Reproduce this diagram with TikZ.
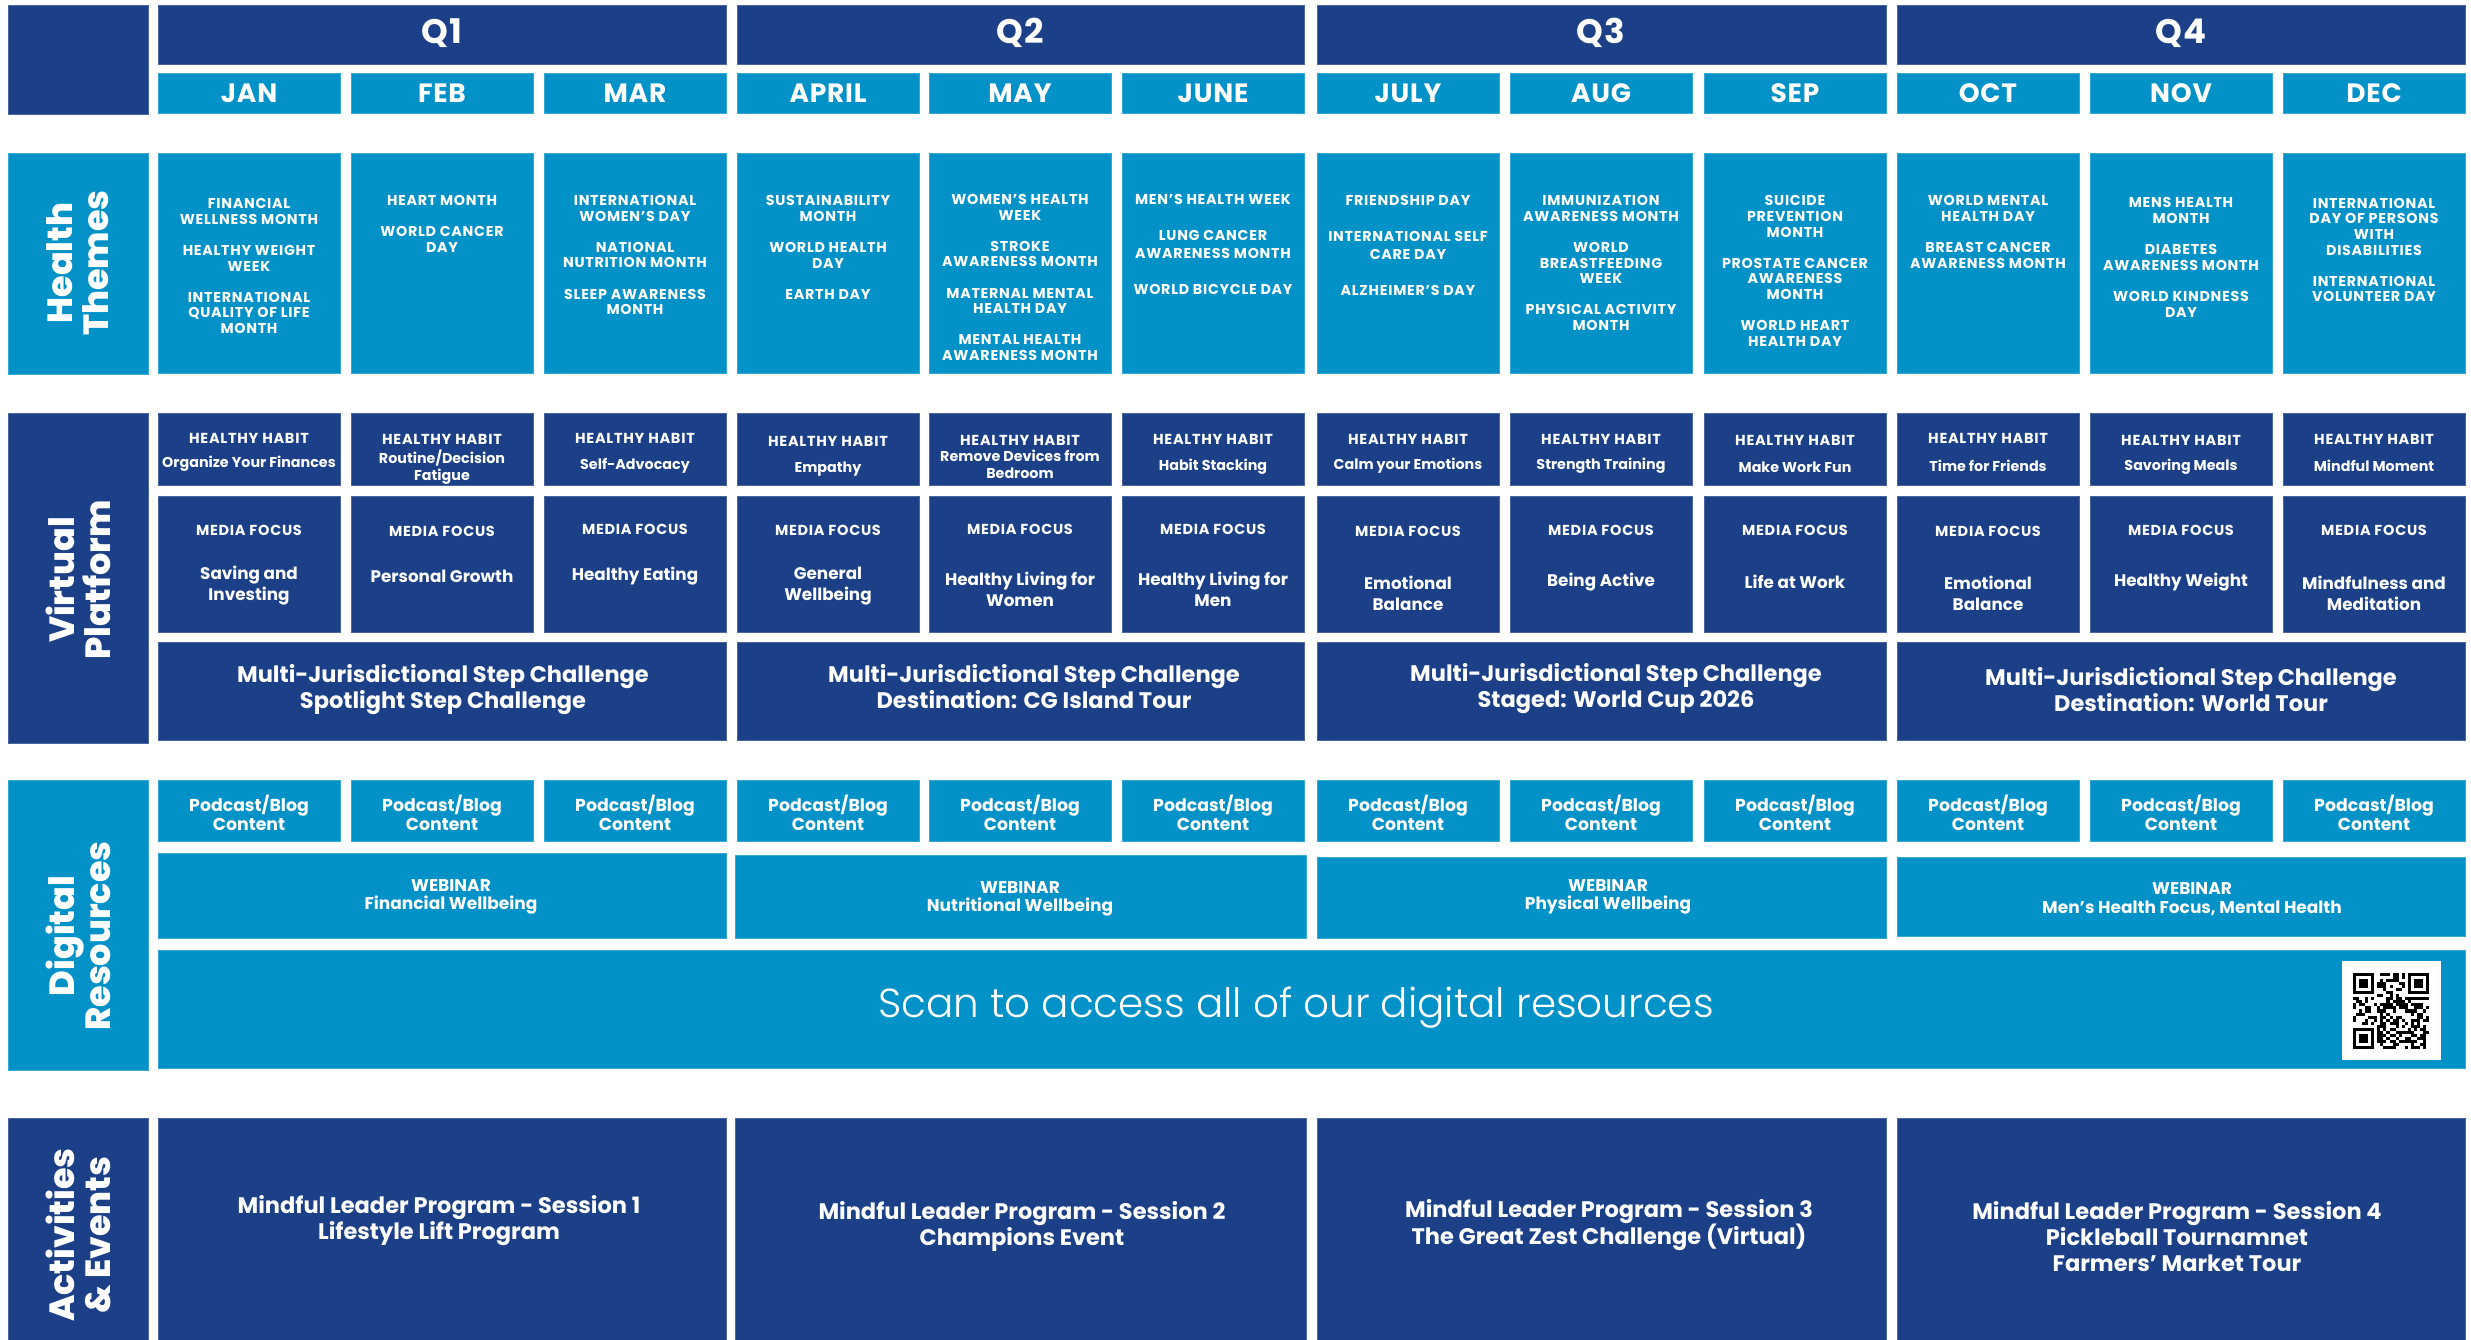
\documentclass[tikz,border=0pt]{standalone}
\usepackage{fontspec}
\setmainfont{Poppins}
\newfontfamily\popl{Poppins Light}
\newfontfamily\popx{Poppins ExtraBold}
\newfontfamily\capsf[LetterSpace=5]{Poppins}
\newfontfamily\monf[LetterSpace=3]{Poppins}
\definecolor{navy}{RGB}{27,64,135}
\definecolor{sky}{RGB}{2,146,200}
\newcommand\cell[6]{\node[#2, minimum width={(#5-#3)*1pt}, minimum height={(#6-#4)*1pt}] (#1) at (#3,#4) {};}
\tikzset{
  dk/.style={fill=navy, draw=navy!80!white, line width=0.8pt, inner sep=0pt, outer sep=0pt, anchor=north west},
  lt/.style={fill=sky, draw=sky!80!white, line width=0.8pt, inner sep=0pt, outer sep=0pt, anchor=north west},
  tx/.style={text=white, inner sep=0pt, align=center, font=\bfseries},
  qlab/.style={tx, font=\monf\bfseries\fontsize{34}{40}\selectfont},
  mlab/.style={tx, font=\monf\bfseries\fontsize{26.5}{30}\selectfont},
  rowlab/.style={tx, rotate=90, font=\popx\fontsize{35}{36}\selectfont},
  theme/.style={tx, font=\capsf\bfseries\fontsize{14.3}{15.6}\selectfont},
  themeb/.style={tx, font=\capsf\bfseries\fontsize{14.3}{18}\selectfont},
  captl/.style={tx, font=\capsf\bfseries\fontsize{14.5}{17}\selectfont},
  small/.style={tx, font=\bfseries\fontsize{14.3}{17}\selectfont},
  mid/.style={tx, font=\bfseries\fontsize{16.8}{21}\selectfont},
  big/.style={tx, font=\bfseries\fontsize{22.5}{26}\selectfont},
  pod/.style={tx, font=\bfseries\fontsize{17.3}{19}\selectfont},
  web/.style={tx, font=\bfseries\fontsize{17}{18.5}\selectfont},
}
\begin{document}
\begin{tikzpicture}[x=1pt,y=-1pt]
\useasboundingbox (0,0) rectangle (2471,1340);
\fill[white] (0,0) rectangle (2471,1340);

% ---- header ----
\cell{corner}{dk}{8}{5}{148}{114}
\cell{q1}{dk}{158}{5}{726}{64}
\cell{q2}{dk}{737}{5}{1304}{64}
\cell{q3}{dk}{1317}{5}{1886}{64}
\cell{q4}{dk}{1897}{5}{2465}{64}
\node[qlab] (q1t) at (442,33) {Q1};
\node[qlab] (q2t) at (1020,33) {Q2};
\node[qlab] (q3t) at (1601,33) {Q3};
\node[qlab] (q4t) at (2181,33) {Q4};

\foreach \l/\n/\m in {158/JAN/jan,351/FEB/feb,544/MAR/mar,737/APRIL/apr,929/MAY/may,1122/JUNE/jun,1317/JULY/jul,1510/AUG/aug,1704/SEP/sep,1897/OCT/oct,2090/NOV/nov,2283/DEC/dec}{
  \cell{m\m}{lt}{\l}{73}{\l+182}{113}
  \node[mlab] (mt\m) at (m\m.center) {\n};
  \cell{h\m}{lt}{\l}{153}{\l+182}{373}
  \cell{hb\m}{dk}{\l}{413}{\l+182}{485}
  \cell{mf\m}{dk}{\l}{496}{\l+182}{632}
  \cell{pc\m}{lt}{\l}{780}{\l+182}{841}
  \node[pod] (pct\m) at ([yshift=-2pt]pc\m.center) {Podcast/Blog\\Content};
}

% ---- row labels ----
\cell{rhealth}{lt}{8}{153}{148}{374}
\cell{rvirtual}{dk}{8}{413}{148}{743}
\cell{rdigital}{lt}{8}{780}{148}{1070}
\cell{ractiv}{dk}{8}{1118}{148}{1345}
\node[rowlab] (rhealtht) at (78,263) {Health\\Themes};
\node[rowlab] (rvirtualt) at (78,580) {Virtual\\Platform};
\node[rowlab] (rdigitalt) at (78,936) {Digital\\Resources};
\node[rowlab] (ractivt) at (78,1235) {Activities\\\& Events};

% ---- health themes ----
\node[theme] (tjan) at (249,266) {FINANCIAL\\WELLNESS MONTH\\[15.6pt]HEALTHY WEIGHT\\WEEK\\[15.6pt]INTERNATIONAL\\QUALITY OF LIFE\\MONTH};
\node[theme] (tfeb) at (442,224) {HEART MONTH\\[15.6pt]WORLD CANCER\\DAY};
\node[theme] (tmar) at (635,255) {INTERNATIONAL\\WOMEN’S DAY\\[15.6pt]NATIONAL\\NUTRITION MONTH\\[15.6pt]SLEEP AWARENESS\\MONTH};
\node[theme] (tapr) at (828,247.5) {SUSTAINABILITY\\MONTH\\[15.6pt]WORLD HEALTH\\DAY\\[15.6pt]EARTH DAY};
\node[theme] (tmay) at (1020,277.5) {WOMEN’S HEALTH\\WEEK\\[15.6pt]STROKE\\AWARENESS MONTH\\[15.6pt]MATERNAL MENTAL\\HEALTH DAY\\[15.6pt]MENTAL HEALTH\\AWARENESS MONTH};
\node[themeb] (tjun) at (1213,244) {MEN’S HEALTH WEEK\\[18pt]LUNG CANCER\\AWARENESS MONTH\\[18pt]WORLD BICYCLE DAY};
\node[themeb] (tjul) at (1408,245) {FRIENDSHIP DAY\\[18pt]INTERNATIONAL SELF\\CARE DAY\\[18pt]ALZHEIMER’S DAY};
\node[theme] (taug) at (1601,263) {IMMUNIZATION\\AWARENESS MONTH\\[15.6pt]WORLD\\BREASTFEEDING\\WEEK\\[15.6pt]PHYSICAL ACTIVITY\\MONTH};
\node[theme] (tsep) at (1795,271) {SUICIDE\\PREVENTION\\MONTH\\[15.6pt]PROSTATE CANCER\\AWARENESS\\MONTH\\[15.6pt]WORLD HEART\\HEALTH DAY};
\node[theme] (toct) at (1988,232) {WORLD MENTAL\\HEALTH DAY\\[15.6pt]BREAST CANCER\\AWARENESS MONTH};
\node[theme] (tnov) at (2181,257.5) {MENS HEALTH\\MONTH\\[15.6pt]DIABETES\\AWARENESS MONTH\\[15.6pt]WORLD KINDNESS\\DAY};
\node[theme] (tdec) at (2374,250) {INTERNATIONAL\\DAY OF PERSONS\\WITH\\DISABILITIES\\[15.6pt]INTERNATIONAL\\VOLUNTEER DAY};

% ---- healthy habits ----
\foreach \x/\m/\y in {249/jan/438,442/feb/439,635/mar/438,828/apr/441,1020/may/440,1213/jun/439,1408/jul/439,1601/aug/439,1795/sep/440,1988/oct/438,2181/nov/440,2374/dec/439}{
  \node[captl] (hht\m) at (\x,\y) {HEALTHY HABIT};
}
\node[small] (hhsjan) at (249,464) {Organize Your Finances};
\node[small] (hhsfeb) at (442,467) {Routine/Decision\\Fatigue};
\node[small] (hhsmar) at (635,466) {Self-Advocacy};
\node[small] (hhsapr) at (828,469) {Empathy};
\node[small] (hhsmay) at (1020,464) {Remove Devices from\\Bedroom};
\node[small] (hhsjun) at (1213,467) {Habit Stacking};
\node[small] (hhsjul) at (1408,466) {Calm your Emotions};
\node[small] (hhsaug) at (1601,466) {Strength Training};
\node[small] (hhssep) at (1795,467) {Make Work Fun};
\node[small] (hhsoct) at (1988,466) {Time for Friends};
\node[small] (hhsnov) at (2181,467) {Savoring Meals};
\node[small] (hhsdec) at (2374,466) {Mindful Moment};

% ---- media focus ----
\foreach \x/\m/\y in {249/jan/530,442/feb/531,635/mar/529,828/apr/530,1020/may/529,1213/jun/529,1408/jul/531,1601/aug/530,1795/sep/530,1988/oct/531,2181/nov/530,2374/dec/530}{
  \node[captl] (mft\m) at (\x,\y) {MEDIA FOCUS};
}
\node[mid] (mfsjan) at (249,586) {Saving and\\Investing};
\node[mid] (mfsfeb) at (442,576) {Personal Growth};
\node[mid] (mfsmar) at (635,576) {Healthy Eating};
\node[mid] (mfsapr) at (828,586) {General\\Wellbeing};
\node[mid] (mfsmay) at (1020,589) {Healthy Living for\\Women};
\node[mid] (mfsjun) at (1213,589) {Healthy Living for\\Men};
\node[mid] (mfsjul) at (1408,593) {Emotional\\Balance};
\node[mid] (mfsaug) at (1601,582) {Being Active};
\node[mid] (mfssep) at (1795,582) {Life at Work};
\node[mid] (mfsoct) at (1988,593) {Emotional\\Balance};
\node[mid] (mfsnov) at (2181,582) {Healthy Weight};
\node[mid] (mfsdec) at (2374,593) {Mindfulness and\\Meditation};

% ---- step challenges ----
\cell{st1}{dk}{158}{642}{726}{740}
\cell{st2}{dk}{737}{642}{1304}{740}
\cell{st3}{dk}{1317}{642}{1886}{740}
\cell{st4}{dk}{1897}{642}{2465}{740}
\node[big] (st1t) at (443,690) {Multi-Jurisdictional Step Challenge\\Spotlight Step Challenge};
\node[big] (st2t) at (1034,687) {Multi-Jurisdictional Step Challenge\\Destination: CG Island Tour};
\node[big] (st3t) at (1616,689) {Multi-Jurisdictional Step Challenge\\Staged: World Cup 2026};
\node[big] (st4t) at (2191,690) {Multi-Jurisdictional Step Challenge\\Destination: World Tour};

% ---- webinars ----
\cell{wb1}{lt}{158}{853}{726}{938}
\cell{wb2}{lt}{735}{855}{1306}{938}
\cell{wb3}{lt}{1317}{857}{1886}{938}
\cell{wb4}{lt}{1897}{857}{2465}{936}
\node[web] (wb1t) at (451,897) {WEBINAR\\Financial Wellbeing};
\node[web] (wb2t) at (1020,899) {WEBINAR\\Nutritional Wellbeing};
\node[web] (wb3t) at (1608,897) {WEBINAR\\Physical Wellbeing};
\node[web] (wb4t) at (2192,899) {WEBINAR\\Men’s Health Focus, Mental Health};

% ---- scan banner ----
\cell{scan}{lt}{158}{950}{2465}{1068}
\node[tx, font=\popl\fontsize{40.5}{42}\selectfont] (scant) at (1296,1008) {Scan to access all of our digital resources};
\node[fill=white, inner sep=0pt, minimum size=99pt, anchor=north west] (qr) at (2342,961) {};
\pgfmathsetseed{12}
\foreach \i in {0,...,24}{
  \foreach \j in {0,...,24}{
    \pgfmathtruncatemacro\qrskip{((\i<8)*(\j<8))+((\i>16)*(\j<8))+((\i<8)*(\j>16))}
    \pgfmathtruncatemacro\qrbit{rnd<0.5}
    \ifnum\qrskip=0 \ifnum\qrbit=1 \fill[black] (2353+\i*3.04,973+\j*3.04) rectangle +(3.04,3.04); \fi\fi
  }
}
\foreach \a/\b in {0/0,18/0,0/18}{
  \fill[black] (2353+\a*3.04,973+\b*3.04) rectangle +(21.28,21.28);
  \fill[white] (2353+\a*3.04+3.04,973+\b*3.04+3.04) rectangle +(15.2,15.2);
  \fill[black] (2353+\a*3.04+6.08,973+\b*3.04+6.08) rectangle +(9.12,9.12);
}

% ---- activities ----
\cell{ac1}{dk}{158}{1118}{726}{1345}
\cell{ac2}{dk}{735}{1118}{1306}{1345}
\cell{ac3}{dk}{1317}{1118}{1886}{1345}
\cell{ac4}{dk}{1897}{1118}{2465}{1345}
\node[big] (ac1t) at (439,1221) {Mindful Leader Program - Session 1\\Lifestyle Lift Program};
\node[big] (ac2t) at (1022,1226) {Mindful Leader Program - Session 2\\Champions Event};
\node[big] (ac3t) at (1609,1225) {Mindful Leader Program - Session 3\\The Great Zest Challenge (Virtual)};
\node[big] (ac4t) at (2177,1237) {Mindful Leader Program - Session 4\\Pickleball Tournamnet\\Farmers’ Market Tour};
\end{tikzpicture}
\end{document}
